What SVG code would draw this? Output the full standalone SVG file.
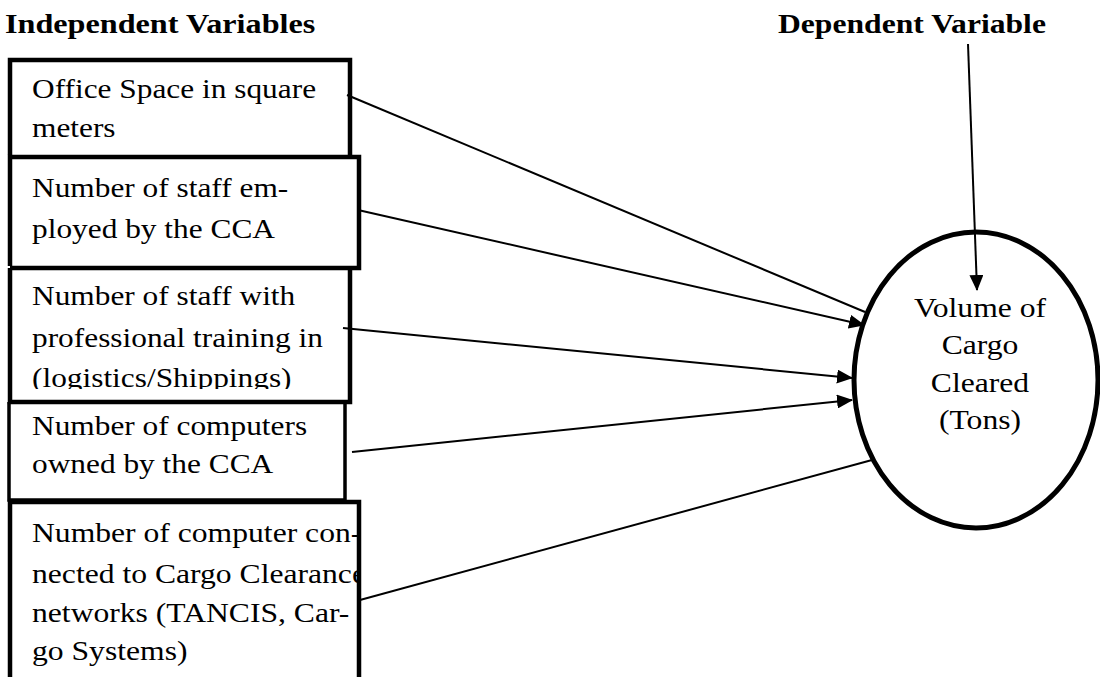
<svg xmlns="http://www.w3.org/2000/svg" width="1100" height="677" viewBox="0 0 1100 677">
<style>
.t{font-family:"Liberation Serif","Times New Roman",serif;font-size:28px;fill:#000}
.h{font-family:"Liberation Serif","Times New Roman",serif;font-size:28px;font-weight:bold;fill:#000}
.box{fill:none;stroke:#000;stroke-width:4.5}
.ln{stroke:#000;stroke-width:2;fill:none}
</style>
<defs>
<marker id="ah" markerWidth="16" markerHeight="14" refX="15" refY="7" orient="auto" markerUnits="userSpaceOnUse">
<path d="M0,0 L16,7 L0,14 Z" fill="#000"/>
</marker>
<clipPath id="c3"><rect x="0" y="266" width="350" height="123"/></clipPath>
<clipPath id="c5"><rect x="0" y="500" width="357" height="177"/></clipPath>
</defs>
<rect width="1100" height="677" fill="#fff"/>
<g id="headers">
<text class="h" transform="translate(5,33) scale(1.15,1)">Independent Variables</text>
<text class="h" transform="translate(778,33) scale(1.13,1)">Dependent Variable</text>
</g>
<g id="connectors">
<line class="ln" x1="347" y1="95" x2="865" y2="312"/>
<line class="ln" x1="358" y1="210" x2="864" y2="325" marker-end="url(#ah)"/>
<line class="ln" x1="343" y1="328" x2="852" y2="378" marker-end="url(#ah)"/>
<line class="ln" x1="352" y1="452" x2="852" y2="400" marker-end="url(#ah)"/>
<line class="ln" x1="360" y1="600" x2="872" y2="460"/>
<line class="ln" x1="968" y1="44" x2="977" y2="290" marker-end="url(#ah)"/>
</g>
<g id="node-dv">
<ellipse cx="976" cy="380" rx="122" ry="148" fill="none" stroke="#000" stroke-width="5"/>
<text class="t" text-anchor="middle" transform="translate(980,317) scale(1.13,1)">Volume of</text>
<text class="t" text-anchor="middle" transform="translate(980,354) scale(1.13,1)">Cargo</text>
<text class="t" text-anchor="middle" transform="translate(980,392) scale(1.13,1)">Cleared</text>
<text class="t" text-anchor="middle" transform="translate(980,429) scale(1.13,1)">(Tons)</text>
</g>
<g id="node-1">
<text class="t" transform="translate(32,98) scale(1.12,1)">Office Space in square</text>
<text class="t" transform="translate(32,137) scale(1.12,1)">meters</text>
<polyline class="box" points="10,155 10,60 350,60 350,155"/>
</g>
<g id="node-2">
<text class="t" transform="translate(32,197) scale(1.12,1)">Number of staff em-</text>
<text class="t" transform="translate(32,238) scale(1.12,1)">ployed by the CCA</text>
<polyline class="box" points="10,266 10,157 359,157 359,268 10,268"/>
</g>
<g id="node-3">
<g clip-path="url(#c3)">
<text class="t" transform="translate(32,305) scale(1.12,1)">Number of staff with</text>
<text class="t" transform="translate(32,347) scale(1.12,1)">professional training in</text>
<text class="t" transform="translate(32,387) scale(1.12,1)">(logistics/Shippings)</text>
</g>
<polyline class="box" points="10,268 10,402 350,402 350,266"/>
</g>
<g id="node-4">
<text class="t" transform="translate(32,435) scale(1.12,1)">Number of computers</text>
<text class="t" transform="translate(32,473) scale(1.12,1)">owned by the CCA</text>
<polyline class="box" points="9,402 9,500 345,500 345,402" style="stroke-width:3.5"/>
</g>
<g id="node-5">
<g clip-path="url(#c5)">
<text class="t" transform="translate(32,542) scale(1.13,1)">Number of computer con-</text>
<text class="t" transform="translate(32,583) scale(1.13,1)">nected to Cargo Clearance</text>
<text class="t" transform="translate(32,622) scale(1.13,1)">networks (TANCIS, Car-</text>
<text class="t" transform="translate(32,660) scale(1.13,1)">go Systems)</text>
</g>
<polyline class="box" points="10,677 10,502 359,502 359,677"/>
</g>
</svg>
